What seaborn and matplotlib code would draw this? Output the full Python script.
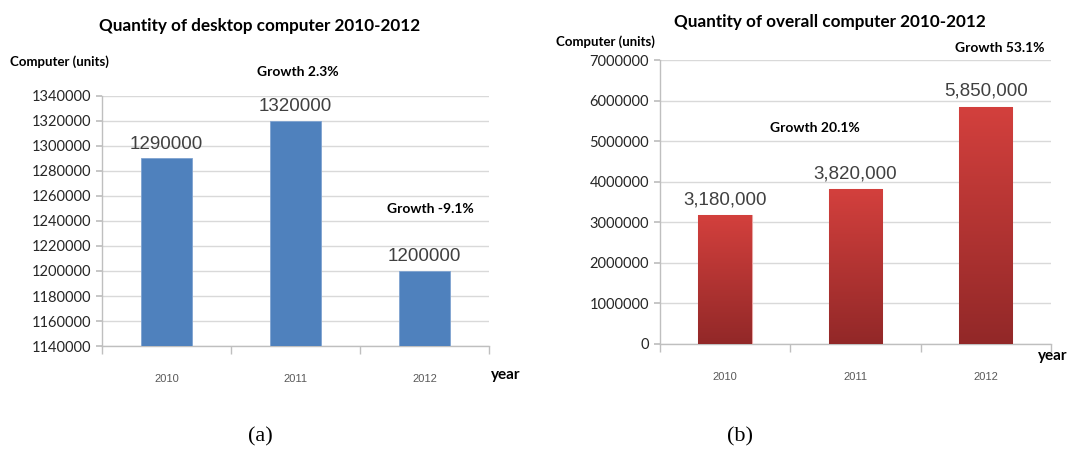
import numpy as np
import pandas as pd
import matplotlib
matplotlib.use("Agg")
import matplotlib.pyplot as plt
from matplotlib.colors import LinearSegmentedColormap
import seaborn as sns

# Data
years = ["2010", "2011", "2012"]
desktop_units = [1290000, 1320000, 1200000]
overall_units = [3180000, 3820000, 5850000]
desktop_growth = ["Growth 2.3%", "Growth -9.1%"]
overall_growth = ["Growth 20.1%", "Growth 53.1%"]

sns.set_theme(style="white")
plt.rcParams["font.family"] = ["Lato", "DejaVu Sans"]

fig = plt.figure(figsize=(10.68, 4.5), dpi=100)
ax1 = fig.add_axes([0.0955, 0.2311, 0.3624, 0.5556])
ax2 = fig.add_axes([0.618, 0.2356, 0.366, 0.631])

df1 = pd.DataFrame({"year": years, "units": desktop_units})
df2 = pd.DataFrame({"year": years, "units": overall_units})

sns.barplot(data=df1, x="year", y="units", color="#4f81bd", saturation=1,
            width=0.40, ax=ax1, zorder=3)
sns.barplot(data=df2, x="year", y="units", color="#b83433", saturation=1,
            width=0.41, ax=ax2, zorder=3)

# vertical red gradient inside each bar of the second chart
red_cmap = LinearSegmentedColormap.from_list("redgrad", ["#922828", "#d3403d"])
grad = np.linspace(0, 1, 256).reshape(-1, 1)
for p in ax2.patches:
    p.set_edgecolor("#e8a6a4")
    p.set_linewidth(0.8)
    x0, y0 = p.get_x(), p.get_y()
    w, h = p.get_width(), p.get_height()
    im = ax2.imshow(grad, cmap=red_cmap, origin="lower", aspect="auto",
                    extent=[x0, x0 + w, y0, y0 + h], zorder=3.5)
    im.set_clip_path(p)

for p in ax1.patches:
    p.set_edgecolor("#7fa3d1")
    p.set_linewidth(0.6)

grid_c = "#d9d9d9"
axis_c = "#bfbfbf"

def style_axis(ax, ylim, step, label_fmt):
    ax.set_xlim(-0.5, 2.5)
    ax.set_ylim(*ylim)
    ax.set_yticks(np.arange(ylim[0], ylim[1] + 1, step))
    ax.set_yticklabels([label_fmt(v) for v in np.arange(ylim[0], ylim[1] + 1, step)],
                       fontsize=10.5, color="#262626")
    ax.yaxis.grid(True, color=grid_c, linewidth=1.0, zorder=0)
    ax.xaxis.grid(False)
    ax.set_axisbelow(True)
    for s in ["top", "right"]:
        ax.spines[s].set_visible(False)
    for s in ["left", "bottom"]:
        ax.spines[s].set_visible(True)
        ax.spines[s].set_color(axis_c)
        ax.spines[s].set_linewidth(1.0)
    ax.tick_params(axis="y", left=True, length=4, color=axis_c, pad=4)
    # category boundary ticks under the x axis
    ax.set_xticks([-0.5, 0.5, 1.5, 2.5], minor=True)
    ax.tick_params(axis="x", which="minor", bottom=True, length=6, color=axis_c)
    ax.tick_params(axis="x", which="major", bottom=False, pad=14,
                   labelsize=8, labelcolor="#595959")
    ax.set_xlabel("")
    ax.set_ylabel("")
    for lab in ax.get_xticklabels():
        lab.set_family(["Liberation Sans Narrow", "Liberation Sans", "DejaVu Sans"])

style_axis(ax1, (1140000, 1340000), 20000, lambda v: f"{int(v)}")
style_axis(ax2, (0, 7000000), 1000000, lambda v: f"{int(v)}")

label_font = dict(fontsize=13.5, color="#404040",
                  family=["Liberation Sans Narrow", "Liberation Sans", "DejaVu Sans"])
ax1.bar_label(ax1.containers[0], labels=[f"{v}" for v in desktop_units],
              padding=4, **label_font)
ax2.bar_label(ax2.containers[0], labels=[f"{v:,}" for v in overall_units],
              padding=5, **label_font)

# Titles and annotations
bold = dict(fontweight="bold", color="black")
fig.text(260 / 1068, 1 - 26 / 450, "Quantity of desktop computer 2010-2012",
         ha="center", va="center", fontsize=12.3, **bold)
fig.text(10 / 1068, 1 - 62 / 450, "Computer (units)", ha="left", va="center",
         fontsize=9.5, **bold)
fig.text(298 / 1068, 1 - 72 / 450, desktop_growth[0], ha="center", va="center",
         fontsize=10, **bold)
fig.text(430 / 1068, 1 - 209 / 450, desktop_growth[1], ha="center", va="center",
         fontsize=10, **bold)
fig.text(506 / 1068, 1 - 375 / 450, "year", ha="center", va="center",
         fontsize=11, **bold)

fig.text(830 / 1068, 1 - 22 / 450, "Quantity of overall computer 2010-2012",
         ha="center", va="center", fontsize=12.3, **bold)
fig.text(556 / 1068, 1 - 42 / 450, "Computer (units)", ha="left", va="center",
         fontsize=9.5, **bold)
fig.text(1000 / 1068, 1 - 48 / 450, overall_growth[1], ha="center", va="center",
         fontsize=10, **bold)
fig.text(815 / 1068, 1 - 128 / 450, overall_growth[0], ha="center", va="center",
         fontsize=10, **bold)
fig.text(1053 / 1068, 1 - 356 / 450, "year", ha="center", va="center",
         fontsize=11, **bold)

serif = dict(family=["Liberation Serif", "DejaVu Serif"], fontsize=16, color="black")
fig.text(260 / 1068, 1 - 437 / 450, "(a)", ha="center", va="center", **serif)
fig.text(740 / 1068, 1 - 437 / 450, "(b)", ha="center", va="center", **serif)

fig.savefig("out.png", dpi=100, facecolor="white")
